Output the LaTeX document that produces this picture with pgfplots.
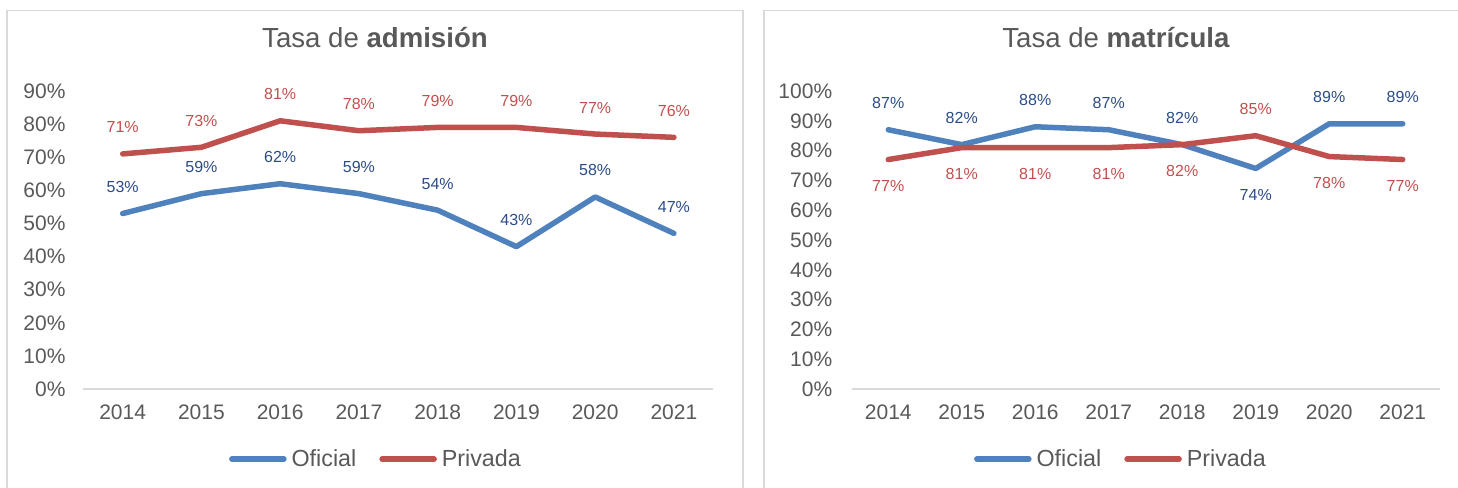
\documentclass[border=0pt]{standalone}
\usepackage{fontspec}
\setmainfont{Liberation Sans}
\usepackage{pgfplots}
\usepackage{pgfplotstable}
\pgfplotsset{compat=1.18}
\definecolor{ofi}{HTML}{4F81BD}
\definecolor{pri}{HTML}{C0504D}
\definecolor{ofilab}{HTML}{2B4C86}
\definecolor{prilab}{HTML}{C0504D}
\definecolor{txt}{HTML}{595959}
\definecolor{frm}{HTML}{D9D9D9}

% Tasa de admision
\pgfplotstableread{
x y
0 53
1 59
2 62
3 59
4 54
5 43
6 58
7 47
}\admOf
\pgfplotstableread{
x y
0 71
1 73
2 81
3 78
4 79
5 79
6 77
7 76
}\admPr
% Tasa de matricula
\pgfplotstableread{
x y
0 87
1 82
2 88
3 87
4 82
5 74
6 89
7 89
}\matOf
\pgfplotstableread{
x y
0 77
1 81
2 81
3 81
4 82
5 85
6 78
7 77
}\matPr

\pgfplotsset{
  panel/.style={
    scale only axis, height=298bp, ymin=0, xmin=-0.5, xmax=7.5,
    clip=false,
    axis x line=bottom, axis y line=left,
    x axis line style={-, draw=frm, line width=1.3bp},
    y axis line style={draw=none},
    tick style={draw=none},
    xtick={0,1,2,3,4,5,6,7},
    xticklabels={2014,2015,2016,2017,2018,2019,2020,2021},
    xticklabel style={font=\fontsize{21bp}{25bp}\selectfont, text=txt, anchor=north, inner sep=0pt, yshift=-14bp},
    yticklabel style={font=\fontsize{21bp}{25bp}\selectfont, text=txt, anchor=east, inner sep=0pt},
    /pgf/number format/assume math mode=true,
    legend columns=2,
    legend style={draw=none, fill=none, anchor=center, inner sep=0pt,
      font=\fontsize{23.3bp}{28bp}\selectfont, text=txt,
      nodes={inner sep=0pt},
      /tikz/every odd column/.append style={column sep=5bp},
      /tikz/every even column/.append style={column sep=23bp}},
    legend image code/.code={\draw[line width=5.5bp, line cap=round] (0bp,0bp) -- (52bp,0bp);},
    title style={font=\fontsize{27.6bp}{33bp}\selectfont, text=txt, anchor=center, inner sep=0pt},
  },
  lab/.style={point meta=y,
    nodes near coords={\pgfmathprintnumber{\pgfplotspointmeta}\%},
    every node near coord/.append style={anchor=center, inner sep=0pt,
      font=\fontsize{16bp}{19bp}\selectfont, yshift=#1}},
  ofiplot/.style={color=ofi, line width=5.5bp, line join=round, line cap=round, no markers,
    every node near coord/.append style={text=ofilab}},
  priplot/.style={color=pri, line width=5.5bp, line join=round, line cap=round, no markers,
    every node near coord/.append style={text=prilab}},
}

\begin{document}
\begin{tikzpicture}
\useasboundingbox (0,0) rectangle (1458bp,488bp);
\draw[frm, line width=1.3bp] (7bp,-20bp) rectangle (743bp,477.3bp);
\draw[frm, line width=1.3bp] (764bp,-20bp) rectangle (1490bp,477.3bp);

\begin{axis}[panel,
  at={(83.3bp,99bp)}, anchor=south west, width=630bp,
  ymax=90, ytick={0,10,20,30,40,50,60,70,80,90},
  yticklabels={0\%,10\%,20\%,30\%,40\%,50\%,60\%,70\%,80\%,90\%},
  yticklabel style={xshift=-15.5bp},
  title={Tasa de \textbf{admisión}},
  title style={at={(0.463,1.161)}},
  legend style={at={(0.463,-0.235)}},
]
\addplot[ofiplot, lab=26.5bp] table[x=x, y=y] {\admOf};
\addlegendentry{Oficial}
\addplot[priplot, lab=26.5bp] table[x=x, y=y] {\admPr};
\addlegendentry{Privada}
\end{axis}

\begin{axis}[panel,
  at={(851.5bp,99bp)}, anchor=south west, width=588bp,
  ymax=100, ytick={0,10,20,30,40,50,60,70,80,90,100},
  yticklabels={0\%,10\%,20\%,30\%,40\%,50\%,60\%,70\%,80\%,90\%,100\%},
  yticklabel style={xshift=-17bp},
  title={Tasa de \textbf{matrícula}},
  title style={at={(0.4498,1.161)}},
  legend style={at={(0.4566,-0.235)}},
]
\addplot[ofiplot, lab=26.5bp, coordinate style/.condition={\coordindex==5}{yshift=-53bp}] table[x=x, y=y] {\matOf};
\addlegendentry{Oficial}
\addplot[priplot, lab=-26.5bp, coordinate style/.condition={\coordindex==5}{yshift=53bp}] table[x=x, y=y] {\matPr};
\addlegendentry{Privada}
\end{axis}
\end{tikzpicture}
\end{document}
